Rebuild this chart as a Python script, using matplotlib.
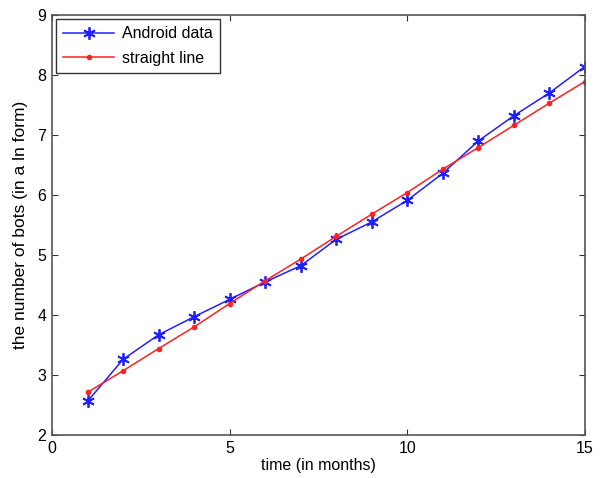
import matplotlib
matplotlib.use('Agg')
from matplotlib import pyplot as plt

months = list(range(1, 16))
android = [2.56, 3.26, 3.67, 3.97, 4.26, 4.55, 4.82, 5.26, 5.55, 5.91, 6.36, 6.90, 7.32, 7.70, 8.14]
straight = [2.71, 3.07, 3.44, 3.80, 4.19, 4.57, 4.93, 5.31, 5.68, 6.04, 6.43, 6.79, 7.16, 7.53, 7.89]

plt.rcParams['font.family'] = ['Liberation Sans', 'DejaVu Sans']
plt.rcParams['font.size'] = 11.5

fig = plt.figure(figsize=(6.01, 4.78), dpi=100)
ax = fig.add_axes([0.0865, 0.09, 0.8865, 0.8786])

ax.plot(months, android, color='#2020ff', marker=(6, 2, 0), markersize=9, markeredgewidth=1.3,
        linewidth=1.1, label='Android data')
ax.plot(months, straight, color='#ff2020', marker='.', markersize=6, linewidth=1.1, label='straight line')

ax.set_xlim(0, 15)
ax.set_ylim(2, 9)
ax.set_xticks([0, 5, 10, 15])
ax.set_yticks(range(2, 10))
ax.tick_params(direction='in', top=True, right=True, length=4, color='#333333', pad=4)
for s in ax.spines.values():
    s.set_color('#555555')
    s.set_linewidth(1.2)
ax.set_xlabel('time (in months)', labelpad=2)
ax.set_ylabel('the number of bots (in a ln form)', labelpad=7, fontsize=12.5)

leg = ax.legend(loc='upper left', fancybox=False, edgecolor='#333333', framealpha=1,
                borderaxespad=0.25, handlelength=3.2, borderpad=0.45, labelspacing=0.6, handletextpad=0.5)
leg.get_frame().set_linewidth(1.0)

fig.savefig('out.png', dpi=100)
